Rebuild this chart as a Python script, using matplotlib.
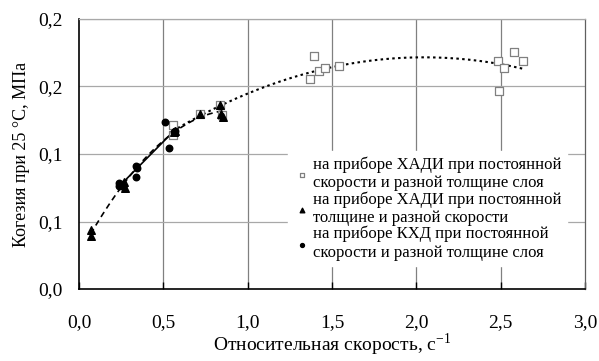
import numpy as np
import matplotlib
matplotlib.use('Agg')
import matplotlib.pyplot as plt

plt.rcParams['font.family'] = ['Liberation Serif', 'DejaVu Serif']
plt.rcParams['mathtext.fontset'] = 'custom'
plt.rcParams['mathtext.rm'] = 'Liberation Serif'

# ХАДИ, constant speed, varying layer thickness (open squares)
sq_x = [0.555, 0.557, 0.717, 0.836, 0.845, 1.371, 1.391, 1.421, 1.458, 1.542,
        2.486, 2.491, 2.521, 2.582, 2.630]
sq_y = [0.1215, 0.1140, 0.1296, 0.1365, 0.1290, 0.1553, 0.1727, 0.1616, 0.1639, 0.1654,
        0.1691, 0.1464, 0.1640, 0.1758, 0.1690]

# ХАДИ, constant thickness, varying speed (triangles)
tr_x = [0.069, 0.069, 0.267, 0.273, 0.262, 0.563, 0.569, 0.717, 0.836, 0.840, 0.855]
tr_y = [0.0437, 0.0393, 0.0795, 0.0746, 0.0775, 0.1165, 0.1170, 0.1296, 0.1363, 0.1296, 0.1277]

# КХД, constant speed, varying layer thickness (circles)
ci_x = [0.237, 0.240, 0.257, 0.336, 0.340, 0.342, 0.510, 0.534, 0.563, 0.570]
ci_y = [0.0783, 0.0765, 0.0763, 0.0832, 0.0911, 0.0896, 0.1235, 0.1042, 0.1165, 0.1170]

labels = ['на приборе ХАДИ при постоянной\nскорости и разной толщине слоя',
          'на приборе ХАДИ при постоянной\nтолщине и разной скорости',
          'на приборе КХД при постоянной\nскорости и разной толщине слоя']

xticks = [0.0, 0.5, 1.0, 1.5, 2.0, 2.5, 3.0]
xticklabels = ['0,0', '0,5', '1,0', '1,5', '2,0', '2,5', '3,0']
yticks = [0.0, 0.05, 0.10, 0.15, 0.20]
yticklabels = ['0,0', '0,1', '0,1', '0,2', '0,2']

fig = plt.figure(figsize=(5.99, 3.61), dpi=100, facecolor='w')
ax = fig.add_axes([0.1319, 0.1994, 0.8447, 0.748])

ax.set_xlim(0, 3)
ax.set_ylim(0, 0.2)
ax.set_xticks(xticks)
ax.set_xticklabels(xticklabels)
ax.set_yticks(yticks)
ax.set_yticklabels(yticklabels)

for val in xticks[1:-1]:
    ax.axvline(val, color='#808080', lw=0.9, zorder=0)
for val in yticks[1:]:
    ax.axhline(val, color='#a8a8a8', lw=0.9, zorder=0)

# trend lines (least squares fits of each series)
def trend(xs, ys, deg, **kw):
    coef = np.polyfit(xs, ys, deg)
    xx = np.linspace(min(xs), max(xs), 200)
    ax.plot(xx, np.polyval(coef, xx), color='black', zorder=2, **kw)

trend(sq_x, sq_y, 2, lw=1.5, linestyle=(0, (1.2, 1.6)))
trend(tr_x, tr_y, 2, lw=1.2, linestyle=(0, (3.5, 2.5)))
trend(ci_x, ci_y, 1, lw=1.2, linestyle='-')

ax.scatter(sq_x, sq_y, marker='s', s=30, facecolors='white', edgecolors='#808080',
           linewidths=0.9, zorder=3, label=labels[0])
ax.scatter(tr_x, tr_y, marker='^', s=30, color='black', zorder=4, label=labels[1])
ax.scatter(ci_x, ci_y, marker='o', s=22, color='black', zorder=4, label=labels[2])

for side in ['left', 'bottom']:
    ax.spines[side].set_linewidth(1.2)
    ax.spines[side].set_color('black')
ax.spines['top'].set_color('#a8a8a8')
ax.spines['top'].set_linewidth(0.9)
ax.spines['right'].set_color('#606060')
ax.spines['right'].set_linewidth(0.9)

ax.tick_params(axis='x', direction='in', length=5, width=1, labelsize=14, pad=18)
ax.tick_params(axis='y', direction='in', length=0, labelsize=14, pad=12)

ax.set_xlabel('Относительная скорость, с$^{\\mathrm{-1}}$', fontsize=14, labelpad=0)
ax.set_ylabel('Когезия при 25 °С, МПа', fontsize=13, labelpad=6)

leg = ax.legend(loc='lower left', bbox_to_anchor=(0.397, 0.055), fontsize=12,
                frameon=True, fancybox=False, borderpad=0.3, labelspacing=0.0,
                handletextpad=0.2, handlelength=1.0, scatterpoints=1, markerscale=0.6)
leg.get_frame().set_edgecolor('white')
leg.get_frame().set_facecolor('white')
leg.get_frame().set_alpha(1)
leg.set_zorder(5)

fig.savefig('out.png', dpi=100)
